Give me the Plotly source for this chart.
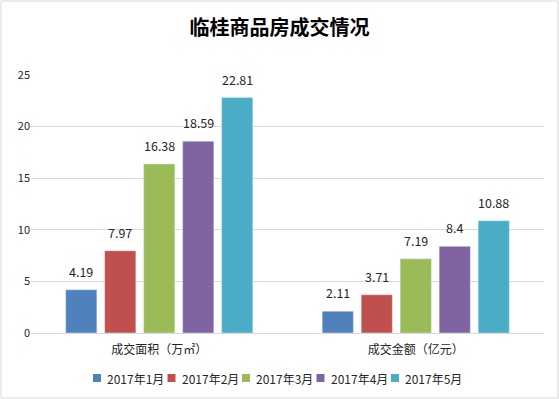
import plotly.graph_objects as go

categories = ["成交面积（万㎡）", "成交金额（亿元）"]
series_names = ["2017年1月", "2017年2月", "2017年3月", "2017年4月", "2017年5月"]
values = [
    [4.19, 2.11],
    [7.97, 3.71],
    [16.38, 7.19],
    [18.59, 8.4],
    [22.81, 10.88],
]
colors = ["#4F81BD", "#C0504D", "#9BBB59", "#8064A2", "#4BACC6"]
y_ticks = [0, 5, 10, 15, 20, 25]

W, H = 559, 399
ml, mr, mt, mb = 31, 15, 75, 66
pw = W - ml - mr
ph = H - mt - mb
FONT = "Noto Sans CJK SC, Noto Sans, sans-serif"
TXT = "#262626"
BARGAP, GROUPGAP = 0.24, 0.2

fig = go.Figure()
for name, vals, col in zip(series_names, values, colors):
    fig.add_trace(go.Bar(
        x=categories, y=vals, name=name, marker_color=col,
        showlegend=False, hoverinfo="x+y+name",
    ))

# value labels above each bar, positioned through the axes (x = category, y = value)
n = len(series_names)
slot_px = pw / len(categories) * (1 - BARGAP) / n
for i, vals in enumerate(values):
    for cat, v in zip(categories, vals):
        fig.add_annotation(x=cat, y=v, text=f"{v:g}", showarrow=False,
                           xshift=(i - (n - 1) / 2) * slot_px, yshift=7,
                           yanchor="bottom", xanchor="center",
                           font=dict(size=12.5, color=TXT, family=FONT))

fig.update_layout(
    width=W, height=H,
    margin=dict(l=ml, r=mr, t=mt, b=mb, autoexpand=False),
    paper_bgcolor="white", plot_bgcolor="white",
    font=dict(family=FONT, size=11, color=TXT),
    title=dict(text="<b>临桂商品房成交情况</b>", x=0.5, xanchor="center",
               y=1 - 28 / H, yanchor="middle",
               font=dict(size=20, color="#000000")),
    barmode="group", bargap=BARGAP, bargroupgap=GROUPGAP,
    xaxis=dict(showline=False, ticks="", ticklabelstandoff=8,
               tickfont=dict(size=12, color=TXT)),
    yaxis=dict(range=[0, 25], tickvals=y_ticks, showgrid=True, gridcolor="#D9D9D9",
               gridwidth=1, zeroline=True, zerolinecolor="#D9D9D9", zerolinewidth=1,
               ticks="", tickfont=dict(size=11, color=TXT)),
)

# legend drawn as a compact row (square + label), matching the original layout
leg_y_px = 378
leg_start_px = 93
leg_step_px = 74.5
ly = -(leg_y_px - (H - mb)) / ph
for i, (name, col) in enumerate(zip(series_names, colors)):
    x_px = leg_start_px + i * leg_step_px
    fig.add_shape(type="rect", xref="paper", yref="paper",
                  x0=(x_px - ml) / pw, x1=(x_px + 8 - ml) / pw,
                  y0=ly - 4 / ph, y1=ly + 4 / ph,
                  line=dict(width=0), fillcolor=col)
    fig.add_annotation(text=name, xref="paper", yref="paper",
                       x=(x_px + 12 - ml) / pw, y=ly, xanchor="left", yanchor="middle",
                       showarrow=False, font=dict(size=12, color=TXT, family=FONT))

fig.add_shape(type="rect", xref="paper", yref="paper",
              x0=(1 - ml) / pw, x1=(W - 1 - ml) / pw,
              y0=-(mb - 1) / ph, y1=1 + (mt - 1) / ph,
              line=dict(color="#D9D9D9", width=1), fillcolor="rgba(0,0,0,0)", layer="below")

fig.write_html("out.html", config={"displayModeBar": False},
               post_script="document.body.style.margin='0';document.body.style.overflow='hidden';")
